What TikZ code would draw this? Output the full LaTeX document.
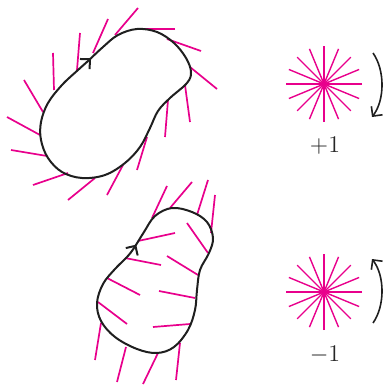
\documentclass[tikz,border=0pt]{standalone}
\usepackage{amsmath,amssymb}
\usepackage{xcolor}
\usetikzlibrary{arrows.meta, decorations.markings}
\definecolor{hedge}{RGB}{232,0,140}

\begin{document}
\begin{tikzpicture}[
    x=0.5pt, y=-0.5pt,
    loopline/.style={line width=1pt, black!88},
    flowarrow/.style={postaction={decorate}, decoration={markings, mark=at position 2pt with {\arrow{Straight Barb[length=3.5pt, width=7pt]}}}},
    spike/.style={line width=0.85pt, hedge},
    ray/.style={line width=0.7pt, hedge},
    spinarrow/.style={-{Straight Barb[length=3.5pt, width=7pt]}, line width=0.8pt, black!88},
    index/.style={font=\fontsize{13}{15}\selectfont, text=black!85}
]
\useasboundingbox (0,0) rectangle (383,385);

% upper loop, spikes outside
\foreach \ax/\ay/\bx/\by in {138/8/115/35, 108/19/93/53, 80/33/77/70, 53/53/54/90,
    24/80/43/112, 7/117/40/135, 11/150/47/156, 33/185/68/173,
    68/200/95/178, 107/195/123/165, 137/170/147/137, 165/137/168/100,
    190/122/185/85, 217/89/190/67, 201/51/167/39, 175/29/137/29}
    \draw[spike] (\ax,\ay) -- (\bx,\by);
\draw[loopline, flowarrow] plot[smooth cycle, tension=0.6] coordinates {
    (78,70) (88,61) (103,47) (118,35) (137,29) (157,32) (174,43) (186,58) (191,72)
    (187,83) (170,98) (158,111) (150,128) (140,147) (125,163) (105,175) (82,178)
    (62,172) (48,158) (41,140) (41,122) (48,103) (62,85)};

% lower loop, spikes inside and outside
\foreach \ax/\ay/\bx/\by in {167/186/152/218, 192/182/170/208, 208/180/197/215, 215/195/211/233,
    95/360/101/323, 117/382/126/347, 143/384/158/353, 176/380/180/343,
    138/241/175/233, 187/223/208/253, 125/258/161/265, 167/256/198/275,
    107/278/140/295, 159/291/195/298, 98/302/127/324, 153/327/190/324}
    \draw[spike] (\ax,\ay) -- (\bx,\by);
\draw[loopline, flowarrow] plot[smooth cycle, tension=0.6] coordinates {
    (127,257) (134,248) (144,232) (155,216) (172,208) (192,212) (207,222) (213,238)
    (209,253) (200,270) (197,290) (195,310) (188,330) (174,347) (157,353) (137,349)
    (115,337) (101,321) (97,303) (103,284) (115,269)};

% index +1
\coordinate (plus) at (324,84);
\foreach \ang in {0,22.5,...,157.5}
    \draw[ray] (plus) ++(\ang:38) -- ++(\ang+180:76);
\coordinate (cwtop) at (373,53);
\coordinate (cwbot) at (372,117);
\draw[spinarrow] (cwtop) .. controls (385,70) and (385,100) .. (cwbot);
\node[index] (pluslabel) at (325,146) {$+1$};

% index -1
\coordinate (minus) at (324,292);
\foreach \ang in {0,22.5,...,157.5}
    \draw[ray] (minus) ++(\ang:38) -- ++(\ang+180:76);
\coordinate (ccwbot) at (373,323);
\coordinate (ccwtop) at (372,259);
\draw[spinarrow] (ccwbot) .. controls (385,306) and (385,276) .. (ccwtop);
\node[index] (minuslabel) at (325,355) {$-1$};
\end{tikzpicture}
\end{document}
